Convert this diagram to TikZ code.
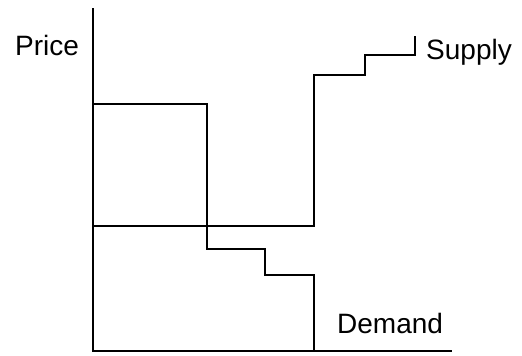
\documentclass[tikz,border=0pt]{standalone}
\usepackage{fontspec}
\setmainfont{Liberation Sans}
\begin{document}
\begin{tikzpicture}[x=1pt,y=-1pt,
  curve/.style={line width=1.4pt,line join=miter},
  lbl/.style={inner sep=0pt,anchor=base west,font=\fontsize{28}{30}\selectfont}]
\useasboundingbox (0,0) rectangle (522,356);
% axes
\coordinate (ytop) at (93,8);
\coordinate (origin) at (93,351);
\coordinate (xend) at (452,351);
\draw[curve] (ytop) -- (origin) -- (xend);
% demand
\coordinate (d0) at (93,104);
\coordinate (d1) at (207,104);
\coordinate (d2) at (207,249);
\coordinate (d3) at (265,249);
\coordinate (d4) at (265,275);
\coordinate (d5) at (314,275);
\coordinate (d6) at (314,351);
\draw[curve] (d0) -- (d1) -- (d2) -- (d3) -- (d4) -- (d5) -- (d6);
% supply
\coordinate (s0) at (93,226);
\coordinate (s1) at (314,226);
\coordinate (s2) at (314,75);
\coordinate (s3) at (365,75);
\coordinate (s4) at (365,55);
\coordinate (s5) at (415,55);
\coordinate (s6) at (415,36);
\draw[curve] (s0) -- (s1) -- (s2) -- (s3) -- (s4) -- (s5) -- (s6);
% labels
\node[lbl] (price) at (15,55) {Price};
\node[lbl] (supply) at (426,59) {Supply};
\node[lbl] (demand) at (337,333) {Demand};
\end{tikzpicture}
\end{document}
